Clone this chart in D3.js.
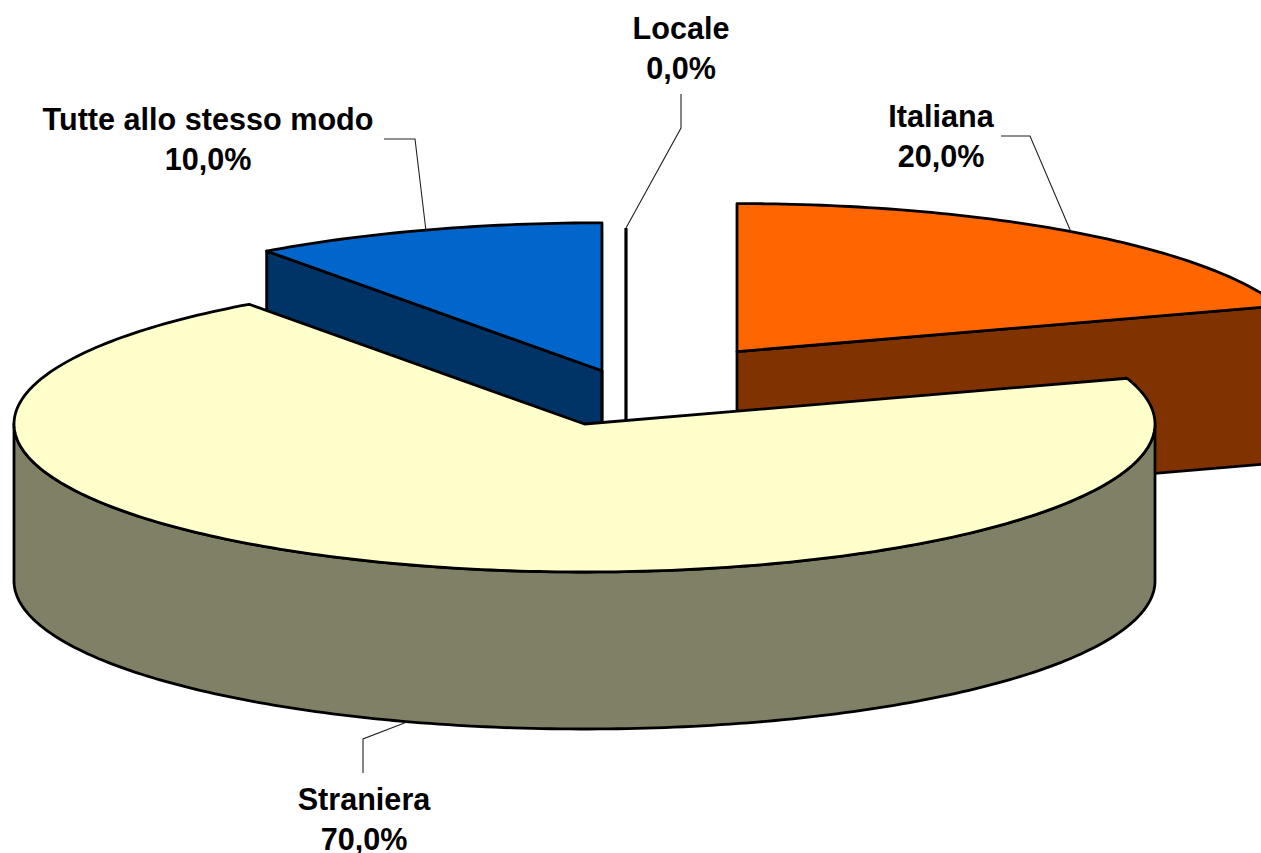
<!DOCTYPE html>
<html><head><meta charset="utf-8">
<style>html,body{margin:0;padding:0;background:#fff}svg{display:block}</style>
<script src="https://cdn.jsdelivr.net/npm/d3@7"></script></head>
<body><svg id="c" width="1261" height="853"></svg>
<script>
const categories = ["Italiana","Straniera","Tutte allo stesso modo","Locale"];
const values = [20,70,10,0];
const valueLabels = ["20,0%","70,0%","10,0%","0,0%"];
const topColors = ["#ff6600","#ffffcc","#0066cc","#ffffff"];
const sideColors = ["#803300","#808066","#003366","#808080"];
// layout only
const RX=570.5, RY=148, DEPTH=157;
const centers=[[737,351.6],[584.5,424],[602,370.8],[626,376]];
const labelPos=[[941,127],[364,810],[208,130],[681,39]];
const leaders=[
 [[1001,136],[1030,136],[1071,232]],
 [[363,773],[363,739],[407,722]],
 [[384,139],[415,139],[426,231]],
 [[681,94],[681,128],[626,228]]
];
const svg=d3.select("#c");
const data=d3.pie().sort(null).value(d=>d)(values);
const px=(i,a,dz=0)=>[centers[i][0]+RX*Math.sin(a),centers[i][1]-RY*Math.cos(a)+dz];
const arcPts=(i,a0,a1,dz=0)=>{const n=Math.max(2,Math.ceil(Math.abs(a1-a0)*60));return d3.range(n+1).map(k=>px(i,a0+(a1-a0)*k/n,dz));};
const line=d3.line();
const strokeW=2.8;
const draw=(pts,fill)=>svg.append("path").attr("d",line(pts)+"Z").attr("fill",fill)
  .attr("stroke","#000").attr("stroke-width",strokeW).attr("stroke-linejoin","round");

// Blue slice (index 2): cut face + top
{const i=2,d=data[i],c=centers[i];
 const pA=px(i,d.startAngle);
 draw([pA,[pA[0],pA[1]+DEPTH],[c[0],c[1]+DEPTH],[c[0],c[1]]],sideColors[i]);
 svg.append("path").attr("d",line([[c[0],c[1]],[c[0],c[1]+DEPTH]])).attr("stroke","#000").attr("stroke-width",strokeW).attr("fill","none");
 draw([c,...arcPts(i,d.startAngle,d.endAngle)],topColors[i]);
}
// Locale (index 3): zero-width slice
{const i=3,c=centers[i],t=px(i,data[i].startAngle);
 svg.append("path").attr("d",line([t,[c[0],c[1]+DEPTH]])).attr("stroke","#000").attr("stroke-width",3.2).attr("fill","none");
}
// Italiana (index 0)
{const i=0,d=data[i],c=centers[i];
 const pE=px(i,d.endAngle);
 draw([c,pE,[pE[0],pE[1]+DEPTH],[c[0],c[1]+DEPTH]],sideColors[i]);
 draw([c,...arcPts(i,d.startAngle,d.endAngle)],topColors[i]);
}
// Straniera (index 1): rim + top
{const i=1,d=data[i],c=centers[i];
 const rim=arcPts(i,Math.PI/2,3*Math.PI/2);
 const rimLow=arcPts(i,3*Math.PI/2,Math.PI/2,DEPTH);
 draw([...rim,...rimLow],sideColors[i]);
 draw([c,...arcPts(i,d.startAngle,d.endAngle)],topColors[i]);
}
// Leaders
leaders.forEach(l=>svg.append("path").attr("d",line(l)).attr("fill","none").attr("stroke","#222").attr("stroke-width",1.1));
// Labels
categories.forEach((name,i)=>{
 const t=svg.append("text").attr("text-anchor","middle").attr("font-family","'Liberation Sans',Arial,sans-serif")
  .attr("font-weight","bold").attr("font-size",30.6).attr("fill","#000");
 t.append("tspan").attr("x",labelPos[i][0]).attr("y",labelPos[i][1]).text(name);
 t.append("tspan").attr("x",labelPos[i][0]).attr("y",labelPos[i][1]+39.5).text(valueLabels[i]);
});
</script></body></html>
